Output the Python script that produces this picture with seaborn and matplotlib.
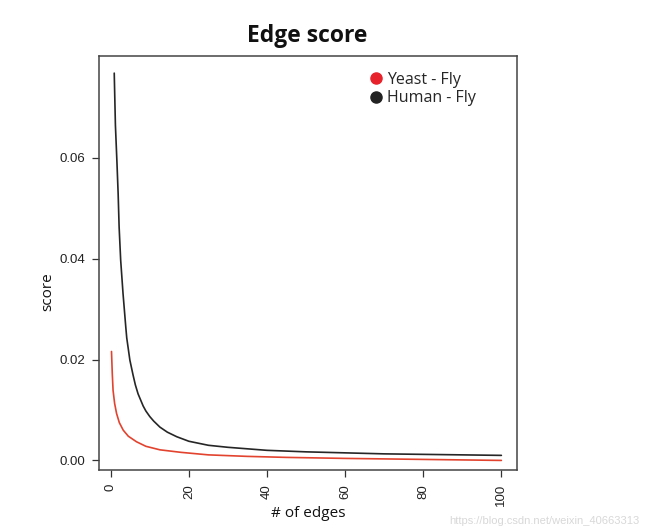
import numpy as np
import pandas as pd
import matplotlib
matplotlib.use("Agg")
import matplotlib.pyplot as plt
from matplotlib.lines import Line2D
import seaborn as sns

# values
human_x = [0.9, 1.2, 1.6, 1.9, 2.15, 2.55, 3.15, 3.85, 4.1, 4.9, 5.7, 6.3, 7.0,
           8.3, 9.0, 10.0, 11.0, 12.6, 14.5, 16.9, 20.0, 25.0, 30.0, 35.0,
           40.0, 50.0, 60.0, 70.0, 80.0, 90.0, 100.0]
human_y = [0.0768, 0.0665, 0.0590, 0.0529, 0.0463, 0.0397, 0.0331, 0.0265,
           0.0243, 0.0199, 0.0170, 0.0150, 0.0132, 0.0108, 0.0098, 0.0087,
           0.0078, 0.0066, 0.0056, 0.0047, 0.0038, 0.0030, 0.0026, 0.0023,
           0.0020, 0.0017, 0.0015, 0.0013, 0.0012, 0.0011, 0.0010]
yeast_x = [0.2, 0.4, 0.6, 1.0, 1.5, 2.2, 3.2, 4.5, 6.6, 9.0, 12.6, 18.0,
           25.0, 35.0, 45.0, 60.0, 80.0, 100.0]
yeast_y = [0.0216, 0.0172, 0.0139, 0.0113, 0.0093, 0.0075, 0.0060, 0.0048,
           0.0037, 0.0028, 0.0021, 0.0016, 0.0011, 0.0008, 0.0006, 0.0004,
           0.0002, 0.0000]
series = ["Yeast - Fly", "Human - Fly"]
x_ticks = [0, 20, 40, 60, 80, 100]
y_ticks = [0.00, 0.02, 0.04, 0.06]

df = pd.concat([
    pd.DataFrame({"edges": yeast_x, "score": yeast_y, "pair": series[0]}),
    pd.DataFrame({"edges": human_x, "score": human_y, "pair": series[1]}),
])

sns.set_style("ticks")
plt.rcParams["font.family"] = ["Liberation Sans", "DejaVu Sans"]

fig = plt.figure(figsize=(6.5, 5.32), dpi=100)
ax = fig.add_axes([99 / 650, 1 - 470 / 532, 418 / 650, 414 / 532])

line_cols = {"Yeast - Fly": "#e2432f", "Human - Fly": "#262626"}
sns.lineplot(data=df, x="edges", y="score", hue="pair", palette=line_cols,
             estimator=None, sort=False, linewidth=1.2, legend=False, ax=ax)

ax.set_xlim(-3.0, 104.0)
ax.set_ylim(-0.0019, 0.0802)
ax.set_xticks(x_ticks)
ax.set_xticklabels([str(t) for t in x_ticks], rotation=90)
ax.set_yticks(y_ticks)
ax.set_yticklabels([f"{t:.2f}" for t in y_ticks])
ax.tick_params(axis="both", direction="out", length=5, width=0.9,
               color="#333333", labelsize=9.5, labelcolor="#222222")
ax.tick_params(axis="y", pad=5)
ax.tick_params(axis="x", pad=5)
for s in ax.spines.values():
    s.set_visible(True)
    s.set_color("#444444")
    s.set_linewidth(1.1)

ax.set_xlabel("# of edges", fontsize=11, family="Open Sans", color="#111111")
ax.set_ylabel("score", fontsize=11, family="Open Sans", color="#111111")
ax.xaxis.set_label_coords(0.5, -0.104)
ax.yaxis.set_label_coords(-0.122, 0.43)
ax.xaxis.label.set_va("center")
ax.yaxis.label.set_va("center")

fig.text(307 / 650, 1 - 36 / 532, "Edge score", ha="center", va="center",
         fontsize=16.5, fontweight="bold", family="Open Sans", color="#111111")

handles = [
    Line2D([], [], linestyle="none", marker="o", markersize=8,
           markerfacecolor="#e8222a", markeredgecolor="#e8222a"),
    Line2D([], [], linestyle="none", marker="o", markersize=8,
           markerfacecolor="#222222", markeredgecolor="#222222"),
]
ax.legend(handles, series, loc="upper left", bbox_to_anchor=(0.617, 0.997),
          frameon=False, handlelength=0.6, handletextpad=0.4,
          labelspacing=0.18, prop={"family": "Open Sans", "size": 11.5})

fig.text(640 / 650, 1 - 521 / 532, "https://blog.csdn.net/weixin_40663313",
         ha="right", va="center", fontsize=8, color="#d8d8d8")

fig.savefig("out.png", dpi=100)
